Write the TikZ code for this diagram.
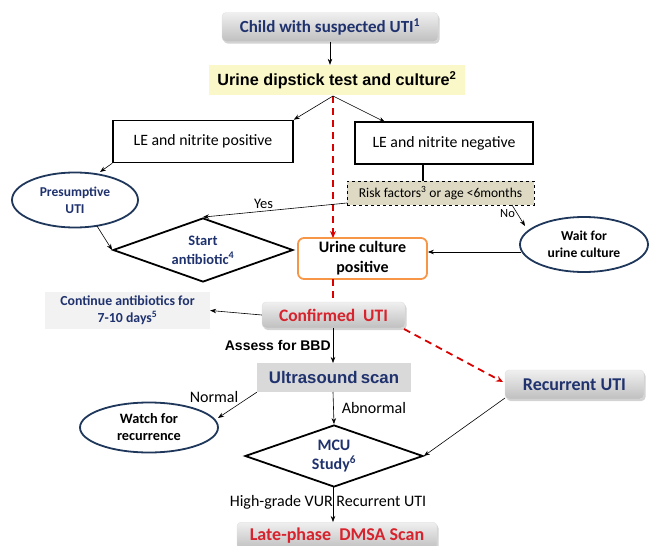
\documentclass[tikz,border=0pt]{standalone}
\usepackage{fontspec}
\setmainfont{Carlito}
\newfontfamily\arial{Liberation Sans}
\usetikzlibrary{shapes.geometric,arrows.meta,shadows}
\definecolor{navy}{RGB}{31,50,110}
\definecolor{ellline}{RGB}{30,55,90}
\definecolor{redtxt}{RGB}{215,35,45}
\definecolor{orangeln}{RGB}{247,150,70}
\definecolor{yellowbg}{RGB}{250,248,200}
\definecolor{riskbg}{RGB}{221,217,195}
\definecolor{contbg}{RGB}{242,242,242}
\definecolor{usbg}{RGB}{217,217,217}
\begin{document}
\begin{tikzpicture}[x=1pt,y=-1pt,
  graybox/.style={rounded corners=4pt, top color=black!6, bottom color=black!25, draw=black!12,
    drop shadow={opacity=0.35, shadow xshift=1.5pt, shadow yshift=-2pt},
    font=\bfseries\fontsize{17.5}{19}\selectfont, inner sep=0pt},
  lebox/.style={draw, line width=1.6pt, font=\fontsize{15.8}{18}\selectfont, inner sep=0pt},
  ellnode/.style={ellipse, draw=ellline, line width=1.8pt, fill=white, align=center, inner sep=0pt,
    font=\bfseries\fontsize{13.6}{17}\selectfont},
  dianode/.style={diamond, draw, line width=1.8pt, align=center, inner sep=0pt, text=navy,
    font=\bfseries\fontsize{15}{19}\selectfont},
  arr/.style={-{Stealth[length=6pt,width=4.5pt]}, line width=0.6pt},
  reddash/.style={draw=red!85!black, line width=1.8pt, dash pattern=on 7pt off 5pt},
  lbl/.style={font=\fontsize{16}{18}\selectfont, inner sep=0pt}
]
\useasboundingbox (0,0) rectangle (649,546);

% nodes
\node[graybox, text=navy, minimum width=216pt, minimum height=29pt, font=\bfseries\fontsize{17}{19}\selectfont] (child) at (330,27) {Child with suspected UTI\textsuperscript{1}};
\node[fill=yellowbg, minimum width=256pt, minimum height=30pt, inner sep=0pt,
  font=\arial\bfseries\fontsize{16.2}{18}\selectfont] (dip) at (337,80) {Urine dipstick test and culture\textsuperscript{2}};
\node[lebox, minimum width=180pt, minimum height=42pt] (lepos) at (203,141.5) {LE and nitrite positive};
\node[lebox, minimum width=178pt, minimum height=42pt] (leneg) at (444,143) {LE and nitrite negative};
\node[draw, dashed, fill=riskbg, line width=0.6pt, minimum width=187pt, minimum height=24pt, inner sep=0pt,
  font=\fontsize{13.5}{15}\selectfont] (risk) at (440.5,193) {Risk factors\textsuperscript{3} or age <6months};
\node[ellnode, minimum width=126pt, minimum height=55pt, text=navy, font=\bfseries\fontsize{13.5}{17}\selectfont] (pres) at (75,200) {Presumptive\\UTI};
\node[ellnode, minimum width=128pt, minimum height=55pt] (wait) at (584,244.5) {Wait for\\urine culture};
\node[dianode, aspect=2.8, minimum width=180pt, minimum height=64pt, font=\bfseries\fontsize{14.5}{19}\selectfont] (start) at (203,250) {Start\\antibiotic\textsuperscript{4}};
\node[draw=orangeln, line width=1.8pt, rounded corners=6pt, fill=white, minimum width=129pt, minimum height=41pt,
  inner sep=0pt, align=center, font=\bfseries\fontsize{16}{20}\selectfont] (cult) at (362.5,258.5) {Urine culture\\positive};
\node[fill=contbg, minimum width=165pt, minimum height=37pt, inner sep=0pt, align=center, text=navy,
  font=\bfseries\fontsize{13.8}{17}\selectfont] (cont) at (127.5,310.5) {Continue antibiotics for\\7-10 days\textsuperscript{5}};
\node[graybox, text=redtxt, minimum width=143pt, minimum height=26pt] (conf) at (333.5,315) {Confirmed\ \ UTI};
\node[fill=usbg, minimum width=154pt, minimum height=29pt, inner sep=0pt, text=navy,
  font=\arial\bfseries\fontsize{16.8}{19}\selectfont] (us) at (334,377.5) {Ultrasound\hspace{-1.5pt} scan};
\node[graybox, text=navy, minimum width=139pt, minimum height=29pt, font=\bfseries\fontsize{18}{20}\selectfont] (recur) at (574.5,384.5) {Recurrent UTI};
\node[ellnode, minimum width=138pt, minimum height=50pt, font=\bfseries\fontsize{14.3}{17}\selectfont] (watch) at (149,427.5) {Watch for\\recurrence};
\node[dianode, aspect=2.85, minimum width=178pt, minimum height=62pt, font=\bfseries\fontsize{16}{19}\selectfont] (mcu) at (334,456) {MCU\\Study\textsuperscript{6}};
\node[graybox, text=redtxt, minimum width=200pt, minimum height=27pt, anchor=north, font=\bfseries\fontsize{18}{20}\selectfont] (dmsa) at (337,522) {Late-phase\ \ DMSA Scan};
\node[lbl] (normal) at (214,397) {Normal};
\node[lbl] (hg) at (328,502) {High-grade VUR Recurrent UTI};

% coordinates on box edges
\coordinate (dipb) at (333,96);
\coordinate (cultt) at (333,238);
\coordinate (cultb) at (333,279);
\coordinate (conft) at (333,302);
\coordinate (confb) at (333,328);
\coordinate (ust) at (333,363);
\coordinate (usb) at (333,392);
\coordinate (mcub) at (333,487);
\coordinate (dmsat) at (333,522);
\coordinate (waitw) at (521,252);

% connectors
\draw[arr] (child.south) -- (dip.north -| child.south);
\draw[reddash, -{Stealth[length=7pt,width=6pt]}] (dipb) -- (cultt);
\draw[reddash] (cultb) -- (conft);
\draw[arr] (dipb) -- (lepos.north east);
\draw[arr] (dipb) -- (385,122);
\draw[line width=2pt] (leneg.south -| 423,0) -- (risk.north -| 423,0);
\draw[arr] (lepos.south west) -- (100,172);
\draw[arr] (97,226) -- (start.west);
\draw[arr] (347,203) -- node[lbl, above, pos=0.58, yshift=2pt, font=\fontsize{14.5}{16}\selectfont] {Yes} (start.north);
\draw[arr] (512,205) -- node[lbl, left, pos=0.55, xshift=-4pt, yshift=3pt, font=\fontsize{12.5}{14}\selectfont] {No} (525,226);
\draw[arr] (waitw) -- (cult.east |- waitw);
\draw[arr] (conf.west) -- (cont.east);
\draw[arr] (confb) -- node[left, inner sep=2pt, font=\arial\bfseries\fontsize{14}{16}\selectfont] {Assess for BBD} (ust);
\draw[reddash, -{Stealth[length=7pt,width=6pt]}] (404,329) -- (503,382);
\draw[arr] (505,398) -- (mcu.east);
\draw[arr] (us.south west) -- (218,418);
\draw[arr] (usb) -- node[lbl, right, xshift=8pt] {Abnormal} (mcu.north);
\draw[arr] (mcub) -- (dmsat);
\end{tikzpicture}
\end{document}
